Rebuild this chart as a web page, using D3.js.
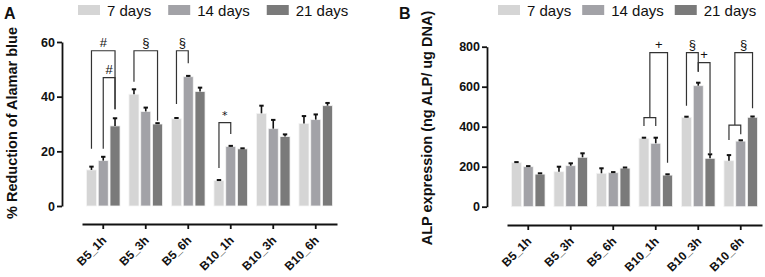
<!DOCTYPE html>
<html>
<head>
<meta charset="utf-8">
<script src="https://cdn.jsdelivr.net/npm/d3@7"></script>
<style>
  body { margin: 0; background: #fff; }
  svg { display: block; font-family: "Liberation Sans", Arial, sans-serif; }
</style>
</head>
<body>
<svg id="chart" width="765" height="277"></svg>
<script>
// categories and series
const groups = ["B5_1h", "B5_3h", "B5_6h", "B10_1h", "B10_3h", "B10_6h"];
const seriesNames = ["7 days", "14 days", "21 days"];
const seriesColors = ["#d5d5d5", "#a2a2a7", "#7a7a7a"];

// panel A: % reduction of Alamar blue (mean, sd)
const alamar7 = [13.2, 40.9, 31.9, 9.3, 33.9, 30.2];
const alamar14 = [16.6, 34.6, 47.3, 21.8, 28.3, 31.6];
const alamar21 = [29.3, 30.0, 41.9, 20.9, 25.4, 36.7];
const alamarErr7 = [1.2, 1.8, 0.3, 0.2, 2.8, 2.7];
const alamarErr14 = [1.4, 1.4, 0.3, 0.2, 3.2, 1.9];
const alamarErr21 = [2.8, 0.3, 1.4, 0.2, 0.8, 1.0];
const alamarTicks = [0, 20, 40, 60];

// panel B: ALP expression (mean, sd)
const alp7 = [220, 175, 167, 342, 447, 230];
const alp14 = [200, 205, 170, 317, 605, 328];
const alp21 = [163, 247, 193, 158, 242, 447];
const alpErr7 = [3, 25, 25, 3, 3, 28];
const alpErr14 = [3, 12, 3, 28, 15, 4];
const alpErr21 = [4, 20, 3, 4, 20, 4];
const alpTicks = [0, 200, 400, 600, 800];

// significance brackets: group, left/right series position (0.5 = between bars),
// leg ends and top in data units
const alamarBrackets = [
  { g: 0, a: 0, aLow: 20.9, b: 2, bLow: 35.4, top: 56.8, label: "#" },
  { g: 0, a: 1, aLow: 20.9, b: 2, bLow: 35.4, top: 47.0, label: "#" },
  { g: 1, a: 0, aLow: 45.5, b: 2, bLow: 31.2, top: 56.8, label: "§" },
  { g: 2, a: 0, aLow: 37.3, b: 1, bLow: 52.2, top: 56.8, label: "§" },
  { g: 3, a: 0, aLow: 13.9, b: 1, bLow: 26.3, top: 30.5, label: "*" }
];
const alpBrackets = [
  { g: 3, a: 0, aLow: 403, b: 1, bLow: 403, top: 445, label: "" },
  { g: 3, a: 0.5, aLow: 445, b: 2, bLow: 220, top: 770, label: "+" },
  { g: 4, a: 0, aLow: 505, b: 1, bLow: 675, top: 770, label: "§" },
  { g: 4, a: 1, aLow: 675, b: 2, bLow: 267, top: 720, label: "+" },
  { g: 5, a: 0, aLow: 333, b: 1, bLow: 362, top: 408, label: "" },
  { g: 5, a: 0.5, aLow: 408, b: 2, bLow: 492, top: 770, label: "§" }
];

const svg = d3.select("#chart");

function drawPanel(p) {
  const g = svg.append("g");
  const x = d3.scaleBand().domain(groups)
    .range([p.x0, p.x1]).paddingInner(0.21).paddingOuter(0.105);
  const xs = d3.scaleBand().domain([0, 1, 2])
    .range([0, x.bandwidth()]).paddingInner(0.15);
  const y = d3.scaleLinear().domain([0, p.ticks[p.ticks.length - 1]])
    .range([p.yBottom, p.yTop]);
  const barX = (gi, s) => x(groups[gi]) + xs(Math.floor(s)) + xs.bandwidth() / 2
    + (s % 1 ? (xs.step() * (s % 1)) : 0);

  // bars
  p.values.forEach((vals, s) => {
    g.append("g").selectAll("rect")
      .data(vals)
      .join("rect")
      .attr("x", (d, i) => x(groups[i]) + xs(s))
      .attr("width", xs.bandwidth())
      .attr("y", d => y(d))
      .attr("height", d => y(0) - y(d))
      .attr("fill", seriesColors[s])
      .attr("stroke", "#f4f4f4")
      .attr("stroke-width", 0.8);

    // error bars
    const eb = g.append("g").attr("stroke", "#111");
    eb.selectAll("line.v")
      .data(vals)
      .join("line")
      .attr("x1", (d, i) => barX(i, s))
      .attr("x2", (d, i) => barX(i, s))
      .attr("y1", d => y(d))
      .attr("y2", (d, i) => y(d + p.errs[s][i]))
      .attr("stroke-width", 1.6);
    eb.selectAll("line.c")
      .data(vals)
      .join("line")
      .attr("x1", (d, i) => barX(i, s) - 2.2)
      .attr("x2", (d, i) => barX(i, s) + 2.2)
      .attr("y1", (d, i) => y(d + p.errs[s][i]))
      .attr("y2", (d, i) => y(d + p.errs[s][i]))
      .attr("stroke-width", 2);
  });

  // brackets
  const br = g.append("g");
  br.selectAll("path")
    .data(p.brackets)
    .join("path")
    .attr("fill", "none")
    .attr("stroke", "#333")
    .attr("stroke-width", 1.2)
    .attr("d", d => {
      const ax = barX(d.g, d.a), bx = barX(d.g, d.b);
      return `M${ax},${y(d.aLow)}V${y(d.top)}H${bx}V${y(d.bLow)}`;
    });
  br.selectAll("text")
    .data(p.brackets.filter(d => d.label))
    .join("text")
    .attr("x", d => (barX(d.g, d.a) + barX(d.g, d.b)) / 2)
    .attr("y", d => y(d.top) - 4)
    .attr("text-anchor", "middle")
    .attr("font-family", d => d.label === "*" ? "DejaVu Sans" : "Liberation Sans")
    .attr("font-size", d => d.label === "*" ? 11 : 13)
    .attr("fill", "#111")
    .text(d => d.label);

  // y axis
  const yAxis = g.append("g")
    .attr("transform", `translate(${p.yAxisX},0)`)
    .call(d3.axisLeft(y).tickValues(p.ticks).tickSize(5).tickSizeOuter(0));
  yAxis.select(".domain").attr("stroke", "#111").attr("stroke-width", 1.8);
  yAxis.selectAll(".tick line").attr("stroke", "#111").attr("stroke-width", 1.8);
  yAxis.selectAll(".tick text")
    .attr("font-family", "Liberation Sans, Arial, sans-serif")
    .attr("font-size", 12.5).attr("font-weight", "bold").attr("fill", "#111")
    .attr("x", -7);

  // x axis (offset below the bars), labels drawn separately rotated
  const xAxis = g.append("g")
    .attr("transform", `translate(0,${p.xAxisY})`)
    .call(d3.axisBottom(x).tickSize(5).tickSizeOuter(0).tickFormat(""));
  xAxis.select(".domain").attr("stroke", "#111").attr("stroke-width", 1.8);
  xAxis.selectAll(".tick line").attr("stroke", "#111").attr("stroke-width", 1.8);

  g.append("g").selectAll("text")
    .data(groups)
    .join("text")
    .attr("transform", d =>
      `translate(${x(d) + x.bandwidth() / 2 + 4},${p.xAxisY + 17}) rotate(-45)`)
    .attr("text-anchor", "end")
    .attr("font-size", 12)
    .attr("font-weight", "bold")
    .attr("fill", "#111")
    .text(d => d);

  // y title
  g.append("text")
    .attr("transform", `translate(${p.titleX},${p.titleY}) rotate(-90)`)
    .attr("text-anchor", "middle")
    .attr("font-size", 14.5)
    .attr("font-weight", "bold")
    .attr("fill", "#111")
    .text(p.title);

  // panel letter
  g.append("text")
    .attr("x", p.letterX).attr("y", 19)
    .attr("font-size", 16).attr("font-weight", "bold").attr("fill", "#111")
    .text(p.letter);

  // legend
  let lx = p.legendX;
  seriesNames.forEach((name, s) => {
    g.append("rect")
      .attr("x", lx).attr("y", 5)
      .attr("width", 22).attr("height", 10)
      .attr("fill", seriesColors[s]);
    const t = g.append("text")
      .attr("x", lx + 29).attr("y", 16)
      .attr("font-size", 15).attr("fill", "#111")
      .text(name);
    lx += 29 + t.node().getComputedTextLength() + p.legendGap;
  });
}

drawPanel({
  letter: "A", letterX: 4,
  title: "% Reduction of Alamar blue", titleX: 17, titleY: 123,
  values: [alamar7, alamar14, alamar21],
  errs: [alamarErr7, alamarErr14, alamarErr21],
  ticks: alamarTicks, brackets: alamarBrackets,
  x0: 82, x1: 337, yAxisX: 62, yBottom: 206, yTop: 42, xAxisY: 224,
  legendX: 78, legendGap: 17
});

drawPanel({
  letter: "B", letterX: 399,
  title: "ALP expression (ng ALP/ ug DNA)", titleX: 432, titleY: 128,
  values: [alp7, alp14, alp21],
  errs: [alpErr7, alpErr14, alpErr21],
  ticks: alpTicks, brackets: alpBrackets,
  x0: 507, x1: 762, yAxisX: 487, yBottom: 206.7, yTop: 46.7, xAxisY: 225,
  legendX: 498, legendGap: 11
});
</script>
</body>
</html>
